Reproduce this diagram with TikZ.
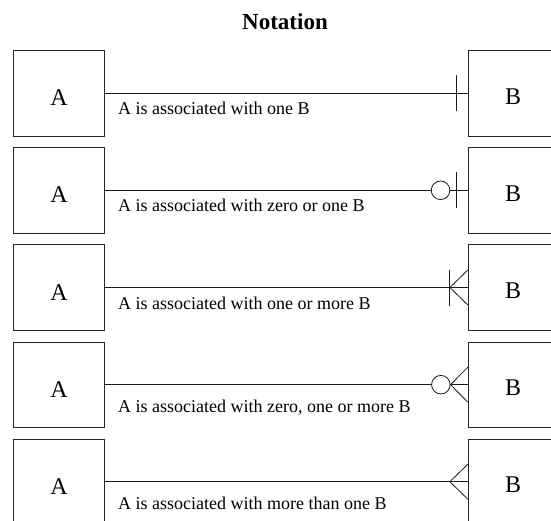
\documentclass[tikz,border=0pt]{standalone}
\usepackage{fontspec}
\setmainfont{Liberation Serif}[Ligatures=TeX]
\newfontfamily\timesface{Liberation Serif}
\usetikzlibrary{calc}
\begin{document}
\begin{tikzpicture}[x=1pt,y=-1pt,
  entity/.style={draw=black!85, line width=0.9pt, minimum width=91.4pt, minimum height=85.5pt, inner sep=0pt},
  letter/.style={anchor=base, inner sep=0pt, font=\timesface\fontsize{24}{26}\selectfont},
  caption/.style={anchor=base west, inner sep=0pt, font=\timesface\fontsize{18}{20}\selectfont},
  link/.style={draw=black!90, line width=0.8pt},
  ring/.style={circle, draw=black!90, line width=0.8pt, fill=white, minimum size=18.6pt, inner sep=0pt}]
\useasboundingbox (0,0) rectangle (551,521);
\clip (0,0) rectangle (551,521);

\node[anchor=base, inner sep=0pt, font=\timesface\fontsize{23}{25}\selectfont\bfseries] (title) at (285,30) {Notation};

% entity pairs, one row per cardinality
\foreach \r/\y in {1/93.3, 2/190.3, 3/287.5, 4/384.7, 5/481.7} {
  \node[entity] (a\r) at (59,\y) {};
  \node[entity] (b\r) at (514,\y) {};
  \node[letter] (la\r) at (59,\y+12.5) {A};
  \node[letter] (lb\r) at (513,\y+11) {B};
}

% row 1: exactly one
\draw[link] (a1.east) -- (b1.west);
\draw[link] ([xshift=-11.6pt,yshift=18pt]b1.west) -- ([xshift=-11.6pt,yshift=-18pt]b1.west);
\node[caption] (t1) at (118,114.5) {A is associated with one B};

% row 2: zero or one
\node[ring] (o2) at ($(b2.west)+(-27.3,0)$) {};
\draw[link] (a2.east) -- (o2.west);
\draw[link] (o2.east) -- (b2.west);
\draw[link] ([xshift=-11.6pt,yshift=18pt]b2.west) -- ([xshift=-11.6pt,yshift=-18pt]b2.west);
\node[caption] (t2) at (118,211.5) {A is associated with zero or one B};

% row 3: one or more
\coordinate (f3) at ($(b3.west)+(-18,0)$);
\draw[link] (a3.east) -- (b3.west);
\draw[link] ([yshift=18pt]f3) -- ([yshift=-18pt]f3);
\draw[link] ([yshift=17.5pt]b3.west) -- (f3) -- ([yshift=-17.5pt]b3.west);
\node[caption] (t3) at (118,309) {A is associated with one or more B};

% row 4: zero, one or more
\node[ring] (o4) at ($(b4.west)+(-27,0)$) {};
\draw[link] (a4.east) -- (o4.west);
\draw[link] (o4.east) -- (b4.west);
\draw[link] ([yshift=17.5pt]b4.west) -- (o4.east) -- ([yshift=-17.5pt]b4.west);
\node[caption] (t4) at (118,412.5) {A is associated with zero, one or more B};

% row 5: more than one
\coordinate (f5) at ($(b5.west)+(-18,0)$);
\draw[link] (a5.east) -- (b5.west);
\draw[link] ([yshift=17.5pt]b5.west) -- (f5) -- ([yshift=-17.5pt]b5.west);
\node[caption] (t5) at (118,509) {A is associated with more than one B};
\end{tikzpicture}
\end{document}
